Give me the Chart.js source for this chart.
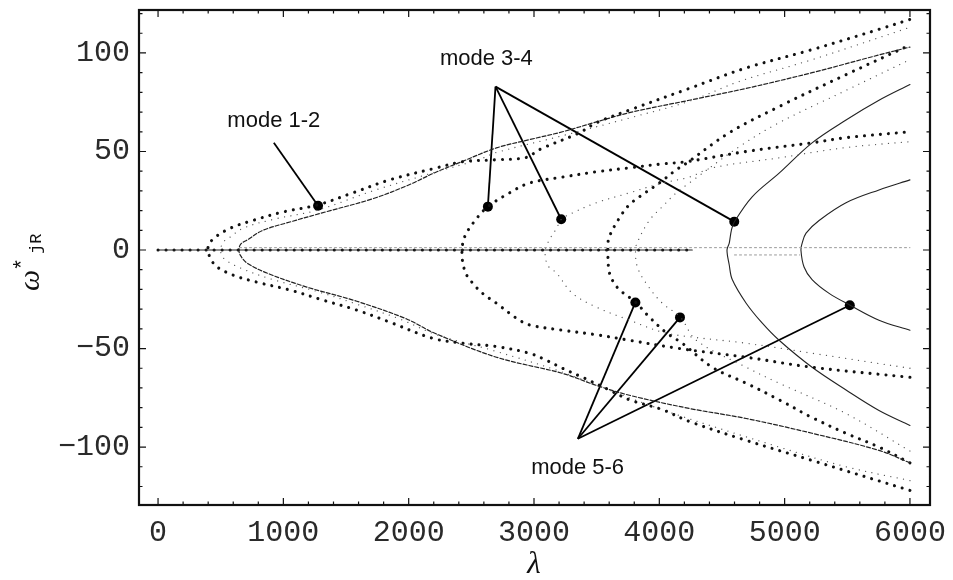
<!DOCTYPE html>
<html><head><meta charset="utf-8">
<script src="https://cdn.jsdelivr.net/npm/chart.js@4.4.1/dist/chart.umd.min.js"></script>
<style>html,body{margin:0;padding:0;background:#fff}canvas{display:block}</style>
</head><body>
<canvas id="c" width="953" height="580"></canvas>
<script>
// ---------- axis ticks ----------
const xTickValues = [0, 1000, 2000, 3000, 4000, 5000, 6000];
const yTickValues = [-100, -50, 0, 50, 100];
const xMinorStep = 200, yMinorStep = 10;
const xRange = [-152, 6160], yRange = [-129.4, 121.8];

// ---------- curves: each branch listed from its vertex outward, [lambda, omega] ----------
// mode 1-2
const m12ThickUp  = [[398,0],[430,5],[574,11],[757,15],[996,19.3],[1275,22.9],[1554,29],[1849,35.6],[2223,41.7],[2430,44.8],[2700,45.8],[2940,47],[3044,51],[3363,59.5],[3498,64.6],[3761,71],[4239,82],[4693,92.4],[5219,101.7],[5753,112],[6000,117]];
const m12ThickLo  = [[398,0],[454,-7.6],[598,-12.7],[789,-16.3],[1052,-20.3],[1315,-25.4],[1586,-30.5],[1849,-36.6],[2191,-44.8],[2430,-47.3],[2700,-49],[2964,-52.4],[3100,-56],[3227,-60],[3387,-64.6],[3600,-71],[3761,-76],[4024,-81],[4239,-87],[4693,-96.6],[5219,-106.8],[6000,-122]];
const m12SmallUp  = [[500,0],[520,4],[574,6.5],[677,11],[916,15.5],[1275,20.3],[1713,30],[2223,39.7],[2566,46],[2700,49.5],[3227,58],[3761,67],[4239,75.5],[4637,85.5],[5219,96.6],[6000,113]];
const m12SmallLo  = [[500,0],[520,-4],[653,-9],[916,-15],[1267,-21],[1586,-27.5],[1928,-35],[2223,-43],[2700,-51.5],[3227,-62],[3761,-75],[4160,-84],[4956,-100],[5490,-110],[6000,-117]];
const m12LineUp   = [[645,0],[660,3],[709,5],[837,10],[1052,14.2],[1347,19.5],[1713,26],[2000,33],[2200,39],[2430,45],[2700,51.8],[2964,56],[3227,60],[3498,65],[3761,69.7],[4239,76],[4693,82],[5219,90],[5753,99],[6000,103]];
const m12LineLo   = [[645,0],[660,-3],[709,-6.6],[869,-11.7],[1187,-18.8],[1586,-26],[1984,-35],[2200,-42],[2700,-54.4],[3227,-62.6],[3498,-68.7],[3761,-73.7],[4239,-80.4],[4693,-85.5],[5219,-93],[5753,-101.7],[6000,-108]];
// mode 3-4
const m34ThickUp  = [[2425,-2],[2446,6.6],[2530,15],[2630,21.9],[2805,29],[2964,34],[3227,37],[3498,39.7],[3761,41.7],[4024,43.7],[4215,44.8],[4693,50],[5219,54.4],[5490,57],[6000,60]];
const m34ThickLo  = [[2425,-2],[2450,-11],[2500,-16],[2590,-22],[2700,-27],[2860,-34.6],[2964,-38],[3227,-40.7],[3498,-43],[3761,-45.8],[4160,-50],[4693,-54.4],[5219,-59.5],[6000,-64.6]];
const m34SmallUp  = [[3090,0],[3130,6],[3180,11],[3219,15.6],[3307,18.8],[3498,24],[3761,29],[4024,34],[4239,37],[4422,41.7],[4956,46.8],[5490,52],[6000,55]];
const m34SmallLo  = [[3090,0],[3108,-7.6],[3180,-11.7],[3307,-22],[3498,-29],[3761,-35.6],[4024,-41.7],[4239,-44],[4693,-47.3],[5219,-52.4],[6000,-60]];
const m34LineUp   = [[4540,0],[4558,3.5],[4575,10],[4598,14.2],[4741,27],[4956,39],[5219,54.4],[5490,66],[5753,76],[6000,84]];
const m34LineLo   = [[4540,0],[4558,-7.6],[4582,-15],[4693,-27],[4820,-37],[4956,-45.8],[5219,-59.5],[5490,-71],[5753,-81.4],[6000,-89]];
// mode 5-6
const m56ThickUp  = [[3590,0],[3600,6.6],[3697,17.8],[3761,23],[3841,27],[4000,34],[4135,40.7],[4215,44],[4558,59.5],[4956,72.8],[5490,89],[6000,104]];
const m56ThickLo  = [[3590,0],[3600,-11],[3641,-17],[3697,-21],[3809,-26.4],[3920,-34],[4056,-42],[4183,-47.3],[4422,-59.5],[4693,-67.6],[4956,-76],[5219,-85],[5490,-93],[5753,-100],[6000,-108]];
const m56SmallUp  = [[3810,0],[3825,4],[3920,15],[4024,22],[4135,29],[4239,34],[4637,52.4],[4956,64.6],[5490,81],[6000,96.6]];
const m56SmallLo  = [[3810,0],[3825,-8.6],[3896,-17],[4024,-27],[4167,-34],[4295,-45.8],[4693,-59.5],[4956,-67.6],[5490,-83],[6000,-102]];
const m56LineUp   = [[5130,0],[5140,3.5],[5171,8.6],[5275,15],[5490,24],[5753,30.5],[6000,35.6]];
const m56LineLo   = [[5130,0],[5155,-8.6],[5219,-15],[5355,-22],[5522,-28],[5753,-35.6],[6000,-40.7]];
// zero branches
const zeroMain    = [[0,0],[4263,0]];
const zeroFaintUp = [[650,1.2],[6000,1.2]];
const zeroFaintLo = [[4600,-2.5],[5120,-2.5]];

// ---------- annotations ----------
const modeLabels  = ['mode 1-2', 'mode 3-4', 'mode 5-6'];
const labelAt     = [[924,65.6],[2620,97],[3348,-110.7]];
const pointerFrom = [[924,54.4],[2693,82.9],[3350,-95.8]];
const pointerTo   = [
  [[1277,22.5]],
  [[2632,22],[3217,15.6],[4598,14.4]],
  [[3809,-26.6],[4165,-34.2],[5520,-28]]
];

// ---------- build datasets ----------
const toPts = a => a.map(p => ({x:p[0], y:p[1]}));
const branchPair = (lo, up) => toPts(lo.slice().reverse().concat(up.slice(1)));
const base = {showLine:true, pointRadius:0, pointHoverRadius:0, tension:0.35, borderCapStyle:'round', fill:false};
const thick = {...base, borderColor:'#111', borderWidth:3.1, borderDash:[0.01,8]};
const small = {...base, borderColor:'#555', borderWidth:1.3, borderDash:[0.01,6.5]};
const line  = {...base, borderColor:'#222', borderWidth:1.1};
const dline = {...base, borderColor:'#222', borderWidth:1.2, borderDash:[4,2]};
const faint = {...base, borderColor:'#999', borderWidth:1, borderDash:[2,3], tension:0};

const datasets = [
  {...faint, data:toPts(zeroFaintUp)},
  {...faint, data:toPts(zeroFaintLo)},
  {...line, data:toPts(zeroMain), tension:0},
  {...thick, data:toPts(zeroMain), tension:0},
  {...thick, data:branchPair(m12ThickLo, m12ThickUp)},
  {...small, data:branchPair(m12SmallLo, m12SmallUp)},
  {...dline, data:branchPair(m12LineLo, m12LineUp)},
  {...thick, data:branchPair(m34ThickLo, m34ThickUp)},
  {...small, data:branchPair(m34SmallLo, m34SmallUp)},
  {...line,  data:branchPair(m34LineLo, m34LineUp)},
  {...thick, data:branchPair(m56ThickLo, m56ThickUp)},
  {...small, data:branchPair(m56SmallLo, m56SmallUp)},
  {...line,  data:branchPair(m56LineLo, m56LineUp)}
];
pointerFrom.forEach((from, i) => {
  pointerTo[i].forEach(to => {
    datasets.push({showLine:true, tension:0, borderColor:'#000', borderWidth:1.8,
      pointRadius:[0,5], pointBackgroundColor:'#000', pointBorderWidth:0,
      data:toPts([from, to])});
  });
});

// ---------- plugin: frame, inward ticks, texts ----------
const framePlugin = {
  id:'framePlugin',
  afterDatasetsDraw(chart){
    const {ctx, chartArea:a, scales:{x, y}} = chart;
    ctx.save();
    ctx.strokeStyle = '#111';
    ctx.lineWidth = 1.2;
    ctx.beginPath();
    for (let v = Math.ceil(xRange[0]/xMinorStep)*xMinorStep; v <= xRange[1]; v += xMinorStep) {
      const px = x.getPixelForValue(v);
      const len = xTickValues.includes(v) ? 7 : 3.5;
      ctx.moveTo(px, a.bottom); ctx.lineTo(px, a.bottom - len);
      ctx.moveTo(px, a.top); ctx.lineTo(px, a.top + len);
    }
    for (let v = Math.ceil(yRange[0]/yMinorStep)*yMinorStep; v <= yRange[1]; v += yMinorStep) {
      const py = y.getPixelForValue(v);
      const len = yTickValues.includes(v) ? 7 : 3.5;
      ctx.moveTo(a.left, py); ctx.lineTo(a.left + len, py);
      ctx.moveTo(a.right, py); ctx.lineTo(a.right - len, py);
    }
    ctx.stroke();
    ctx.lineWidth = 2.2;
    ctx.strokeRect(a.left, a.top, a.right - a.left, a.bottom - a.top);

    // mode labels
    ctx.fillStyle = '#111';
    ctx.font = '22px "Liberation Sans", Arial, sans-serif';
    ctx.textAlign = 'center'; ctx.textBaseline = 'middle';
    modeLabels.forEach((t, i) => ctx.fillText(t, x.getPixelForValue(labelAt[i][0]), y.getPixelForValue(labelAt[i][1])));

    // x-axis title
    ctx.font = 'italic 31px "Liberation Serif", serif';
    ctx.textBaseline = 'alphabetic';
    ctx.fillText('λ', x.getPixelForValue(3000), 573);

    // y-axis title  ω*_jR (rotated)
    ctx.translate(39, 291);
    ctx.rotate(-Math.PI/2);
    ctx.textAlign = 'left';
    ctx.font = 'italic 30px "Liberation Serif", serif';
    ctx.fillText('ω', 0, 0);
    ctx.font = '22px "Liberation Mono", monospace';
    ctx.fillText('*', 20, -10);
    ctx.font = '17px "Liberation Mono", monospace';
    ctx.fillText('jR', 37, 2);
    ctx.restore();
  }
};

const tickFont = {family:'"Liberation Mono", "Courier New", monospace', size:30};
new Chart(document.getElementById('c'), {
  type:'scatter',
  data:{datasets},
  options:{
    responsive:false, animation:false, events:[],
    layout:{padding:{top:10, right:23, left:0, bottom:0}},
    plugins:{legend:{display:false}, tooltip:{enabled:false}},
    scales:{
      x:{type:'linear', min:xRange[0], max:xRange[1],
         grid:{display:false, drawTicks:false}, border:{display:false},
         ticks:{font:tickFont, color:'#2a2a2a', padding:10, maxRotation:0, autoSkip:false,
                callback:v => String(v)},
         afterBuildTicks:s => { s.ticks = xTickValues.map(v => ({value:v})); },
         afterFit:s => { s.height = 75; s.paddingLeft = 0; s.paddingRight = 0; }},
      y:{type:'linear', min:yRange[0], max:yRange[1],
         grid:{display:false, drawTicks:false}, border:{display:false},
         ticks:{font:tickFont, color:'#2a2a2a', padding:9, autoSkip:false,
                callback:v => (v < 0 ? '\u2212' + Math.abs(v) : String(v))},
         afterBuildTicks:s => { s.ticks = yTickValues.map(v => ({value:v})); },
         afterFit:s => { s.width = 139; s.paddingTop = 0; s.paddingBottom = 0; }}
    }
  },
  plugins:[framePlugin]
});
</script>
</body></html>
